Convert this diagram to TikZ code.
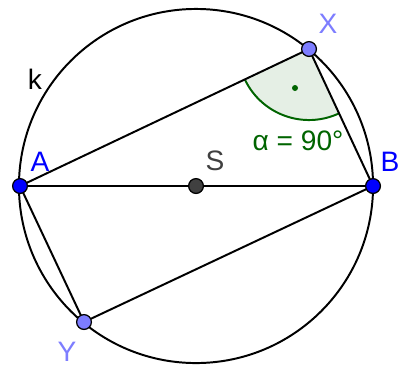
\documentclass[tikz,border=0pt]{standalone}
\usepackage{fontspec}
\setmainfont{Liberation Sans}
\usepackage{tikz}
\usetikzlibrary{angles,positioning,calc}
\definecolor{ptblue}{RGB}{0,0,255}
\definecolor{ptlight}{RGB}{125,125,255}
\definecolor{ptgray}{RGB}{64,64,64}
\definecolor{anggreen}{RGB}{0,100,0}
\tikzset{
  pt/.style={circle,draw=black,line width=0.9pt,inner sep=0pt,minimum size=0.37cm},
  seg/.style={draw=black,line width=1.4pt},
  lbl/.style={font=\fontsize{20}{22}\selectfont,inner sep=0pt},
  sector/.style={draw=anggreen,line width=1.4pt,fill=anggreen!10,angle radius=1.775cm}
}
\begin{document}
\begin{tikzpicture}[x=0.025cm,y=-0.025cm]
        \useasboundingbox (0,0) rectangle (399,364);
        \coordinate (c) at (196,186);
        \draw[seg] (c) circle[radius=4.425cm];
        \coordinate (A) at (20,186);
        \coordinate (B) at (373,186);
        \coordinate (X) at (309,49);
        \coordinate (Y) at (84,322);
        % right angle at X
        \pic[sector] {angle=A--X--B};
        \coordinate (m) at (295,88);
        \fill[anggreen] (m) circle[radius=0.075cm];
        \draw[seg] (A)--(X)--(B)--(Y)--(A) (A)--(B);
        \node[pt,fill=ptblue] (a) at (A) {};
        \node[pt,fill=ptblue] (b) at (B) {};
        \node[pt,fill=ptlight] (x) at (X) {};
        \node[pt,fill=ptlight] (y) at (Y) {};
        \node[pt,fill=ptgray] (s) at (c) {};
        \node[lbl,text=ptblue] (la) at (40,162) {A};
        \node[lbl,text=ptblue] (lb) at (390,162) {B};
        \node[lbl,text=ptlight] (lx) at (328,24) {X};
        \node[lbl,text=ptlight] (ly) at (67,352) {Y};
        \node[lbl,text=ptgray] (ls) at (215,161) {S};
        \node[lbl] (lk) at (35,79) {k};
        \node[lbl,text=anggreen] (lalpha) at (298,141) {α = 90°};
      \end{tikzpicture}
\end{document}
